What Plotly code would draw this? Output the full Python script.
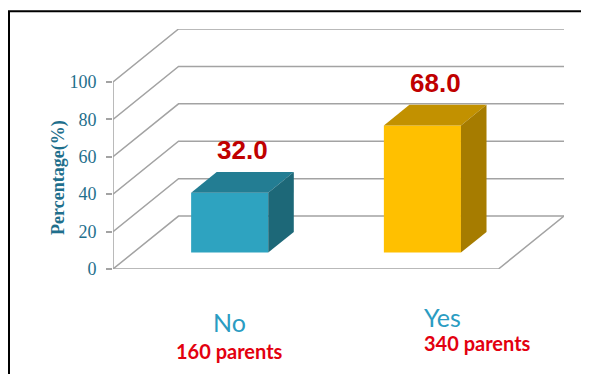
import plotly.graph_objects as go

# ---- data ----
categories = ["No", "Yes"]
percentages = [32.0, 68.0]
counts = ["160 parents", "340 parents"]
y_ticks = [0, 20, 40, 60, 80, 100]
y_title = "Percentage(%)"

# ---- styles ----
front_colors = ["#2EA3C0", "#FFC000"]
top_colors = ["#237D93", "#C29100"]
side_colors = ["#1D6878", "#A67C00"]
grid_color = "#A3A3A3"
tick_color = "#1F6F8C"
label_color = "#2A9CC2"
count_color = "#E3000F"
value_color = "#C00000"

DX = 0.34     # depth offset of the back wall in category units
DY = 28.3     # depth offset of the back wall in value units
D0, DB = 0.31, 0.39   # bar depth start / thickness as fraction of full depth
BW = 0.4      # bar width in category units

n = len(categories)
xs = list(range(n))
ox, oy = D0 * DX, D0 * DY
bdx, bdy = DB * DX, DB * DY
x_lo, x_hi = -0.5, n - 0.5

fig = go.Figure()

# front faces
fig.add_trace(go.Bar(
    x=[i + ox for i in xs], y=percentages, base=oy, width=BW,
    marker=dict(color=front_colors, line=dict(width=0)),
    hoverinfo="skip", showlegend=False))

# top and side faces
for i, v in zip(xs, percentages):
    xl, xr = i + ox - BW / 2, i + ox + BW / 2
    top = oy + v
    fig.add_trace(go.Scatter(
        x=[xl, xr, xr + bdx, xl + bdx, xl],
        y=[top, top, top + bdy, top + bdy, top],
        mode="lines", fill="toself", fillcolor=top_colors[i],
        line=dict(width=0, color=top_colors[i]), hoverinfo="skip", showlegend=False))
    fig.add_trace(go.Scatter(
        x=[xr, xr, xr + bdx, xr + bdx, xr],
        y=[oy, top, top + bdy, oy + bdy, oy],
        mode="lines", fill="toself", fillcolor=side_colors[i],
        line=dict(width=0, color=side_colors[i]), hoverinfo="skip", showlegend=False))

# 3D gridlines (below traces)
shapes = []
for t in y_ticks:
    shapes.append(dict(
        type="path", layer="below",
        path=f"M {x_lo},{t} L {x_lo + DX},{t + DY} L {x_hi + DX},{t + DY}",
        line=dict(color=grid_color, width=1.5)))
# floor
shapes.append(dict(
    type="path", layer="below",
    path=f"M {x_lo},0 L {x_hi},0 L {x_hi + DX},{DY}",
    line=dict(color=grid_color, width=1.5)))
# front vertical axis
shapes.append(dict(
    type="path", layer="below",
    path=f"M {x_lo},0 L {x_lo},{max(y_ticks)}",
    line=dict(color=grid_color, width=1.5)))
# outer frame (left and top edges only; others fall outside the view)
shapes.append(dict(
    type="path", xref="paper", yref="paper", layer="above",
    path="M -0.2306,-0.6 L -0.2306,1.074 L 1.3,1.074",
    line=dict(color="black", width=2)))

annotations = []
# value labels
for i, v in zip(xs, percentages):
    annotations.append(dict(
        x=i + ox + bdx / 2, y=oy + v + bdy, xref="x", yref="y",
        text=f"<b>{v:.1f}</b>", showarrow=False, yanchor="bottom", yshift=5,
        font=dict(family="Liberation Sans", size=26, color=value_color)))

# category labels and counts
cat_anchor = ["center", "left"]
cat_y = [-0.221, -0.198]
cnt_y = [-0.342, -0.31]
for i in xs:
    annotations.append(dict(
        x=i + ox, y=cat_y[i], xref="x", yref="paper",
        text=categories[i], showarrow=False, xanchor=cat_anchor[i], yanchor="middle",
        font=dict(family="Comic Sans MS, Lato, sans-serif", size=25, color=label_color)))
    annotations.append(dict(
        x=i + ox, y=cnt_y[i], xref="x", yref="paper",
        text=f"<b>{counts[i]}</b>", showarrow=False, xanchor=cat_anchor[i], yanchor="middle",
        font=dict(family="Comic Sans MS, Lato, sans-serif", size=20, color=count_color)))

# y-axis title
annotations.append(dict(
    x=-0.150, y=0.383, xref="paper", yref="paper", textangle=-90,
    text=f"<b>{y_title}</b>", showarrow=False,
    font=dict(family="Liberation Serif", size=18, color=tick_color)))

fig.update_layout(
    width=581, height=366,
    margin=dict(l=105, r=25, t=21, b=105),
    paper_bgcolor="white", plot_bgcolor="white",
    showlegend=False,
    shapes=shapes, annotations=annotations,
    xaxis=dict(range=[x_lo, x_hi + DX], visible=False, fixedrange=True),
    yaxis=dict(range=[0, max(y_ticks) + DY], tickvals=y_ticks,
               ticks="outside", ticklen=6, tickcolor=grid_color, tickwidth=1.5,
               ticklabelstandoff=6,
               showgrid=False, zeroline=False, showline=False,
               tickfont=dict(family="Liberation Serif", size=18, color=tick_color)),
)

fig.write_html("out.html")
